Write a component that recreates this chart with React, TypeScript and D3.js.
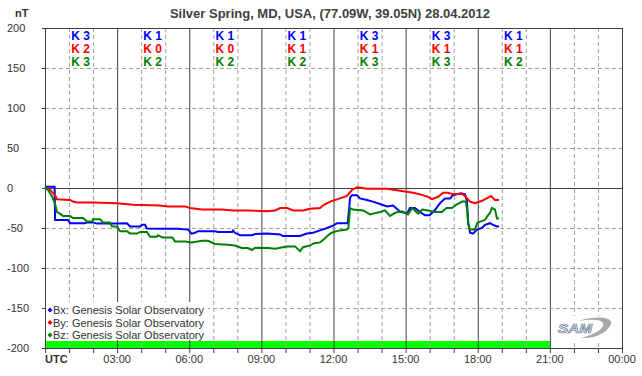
import React from "react";
import * as d3 from "d3";

const TITLE = "Silver Spring, MD, USA, (77.09W, 39.05N) 28.04.2012";
const yTicks = [200, 150, 100, 50, 0, -50, -100, -150, -200];
const xTickLabels = ["UTC", "03:00", "06:00", "09:00", "12:00", "15:00", "18:00", "21:00", "00:00"];
const kBx = ["K 3", "K 1", "K 1", "K 1", "K 3", "K 3", "K 1"];
const kBy = ["K 2", "K 0", "K 0", "K 1", "K 1", "K 1", "K 1"];
const kBz = ["K 3", "K 2", "K 2", "K 2", "K 3", "K 3", "K 2"];
const legendLabels = [
  "Bx: Genesis Solar Observatory",
  "By: Genesis Solar Observatory",
  "Bz: Genesis Solar Observatory",
];
const seriesColors = ["#0000ff", "#ff0000", "#008000"];
const dataCoverage = [0, 21];

const bxData: [number, number][] = [
  [0, 1.5], [0.4, 1.5], [0.42, -40], [0.96, -40], [1.04, -44], [1.66, -44], [1.75, -43], [2.0, -43],
  [2.16, -44.5], [3.0, -44.5], [3.41, -44], [3.54, -48], [3.95, -48], [4.03, -46], [4.16, -46],
  [4.24, -50.5], [4.78, -51], [5.5, -51], [5.95, -52], [6.1, -57], [6.24, -56], [6.36, -54],
  [7.07, -54], [7.2, -55], [7.78, -55], [7.82, -53], [7.9, -56], [8.11, -59], [8.61, -59],
  [8.74, -57.5], [9.23, -57], [9.78, -58], [9.9, -60], [10.6, -60], [10.9, -57], [11.15, -56],
  [11.44, -53], [11.73, -50], [11.98, -47], [12.15, -44], [12.56, -44], [12.6, -42], [12.69, -12],
  [12.77, -9], [12.98, -9], [13.1, -13], [13.39, -15], [13.64, -17], [14.02, -21], [14.23, -23],
  [14.48, -22], [14.77, -29.6], [15.06, -32], [15.18, -25], [15.39, -25], [15.6, -30], [15.8, -34],
  [16.0, -34], [16.22, -27.5], [16.43, -19], [16.64, -13], [16.85, -13], [16.97, -9], [17.3, -6.7],
  [17.47, -8], [17.55, -16], [17.6, -42], [17.68, -56], [17.8, -57], [17.97, -52], [18.18, -50],
  [18.3, -46], [18.51, -44], [18.64, -46], [18.8, -48], [18.89, -48],
];

const byData: [number, number][] = [
  [0, 1], [0.2, -2], [0.42, -9], [0.5, -14], [1.04, -15], [1.16, -17], [1.33, -18], [2.0, -18],
  [3.0, -19], [3.66, -21], [4.78, -22], [5.12, -23], [5.82, -23], [6.03, -25], [6.53, -27],
  [7.36, -27], [7.82, -28], [8.44, -28], [9.23, -29], [9.57, -28], [9.78, -25], [10.07, -25],
  [10.32, -28], [10.73, -28], [11.02, -26], [11.44, -25], [11.6, -21], [11.86, -17], [12.27, -13],
  [12.56, -10], [12.77, -2.5], [12.98, 1], [13.4, -1], [14.23, -1], [14.77, -3.5], [15.31, -6],
  [15.6, -8], [15.93, -11], [16.1, -14], [16.35, -11], [16.56, -6], [16.76, -6], [16.93, -7.5],
  [17.35, -7.5], [17.47, -10], [17.68, -17], [17.89, -19], [18.18, -16], [18.43, -12], [18.55, -10],
  [18.72, -15], [18.89, -15],
];

const bzData: [number, number][] = [
  [0, 1], [0.125, -2.5], [0.3, -11], [0.42, -20], [0.5, -30], [0.62, -32], [0.75, -35], [1.04, -35],
  [1.16, -37.5], [1.58, -37.5], [1.75, -42], [1.96, -42], [2.0, -39], [2.29, -39], [2.41, -43],
  [2.7, -43], [2.79, -48], [3.0, -48], [3.12, -54], [3.41, -54], [3.54, -57], [3.83, -57],
  [3.95, -55], [4.24, -55], [4.37, -61], [4.66, -61], [4.7, -59], [4.9, -62], [5.3, -62],
  [5.41, -67], [5.82, -67], [6.1, -68], [6.53, -66], [6.78, -66], [7.07, -70], [7.6, -71],
  [7.9, -72], [8.19, -75], [8.44, -75], [8.61, -77.5], [8.74, -74.6], [9.3, -75], [9.57, -76],
  [9.9, -74], [10.07, -73], [10.4, -73], [10.61, -79], [10.73, -74], [11.0, -72], [11.2, -69],
  [11.44, -68], [11.6, -64], [11.86, -57], [12.0, -55], [12.27, -53], [12.56, -52], [12.62, -50],
  [12.69, -25], [12.81, -27], [13.23, -28], [13.52, -33], [13.64, -32], [13.94, -30], [14.14, -28],
  [14.35, -35], [14.56, -31], [14.85, -29], [15.1, -33], [15.27, -25], [15.52, -32], [15.7, -27],
  [15.93, -28], [16.22, -30], [16.51, -30], [16.7, -25], [16.93, -25], [17.1, -21], [17.35, -17],
  [17.5, -17], [17.55, -25], [17.6, -45], [17.68, -52], [17.89, -52], [17.97, -44], [18.1, -42],
  [18.3, -40], [18.43, -34], [18.51, -31], [18.59, -25], [18.72, -27], [18.8, -38], [18.89, -38],
];

const W = 642;
const H = 376;
const L = 45, R = 622, T = 28, B = 348;
const FONT = "'Liberation Sans', Arial, sans-serif";

export default function App() {
  const x = d3.scaleLinear().domain([0, 24]).range([L, R]);
  const y = d3.scaleLinear().domain([-200, 200]).range([B, T]);
  const line = d3
    .line<[number, number]>()
    .x((d) => x(d[0]))
    .y((d) => y(d[1]));
  const hours = d3.range(0, 25);
  const series = [bxData, byData, bzData];
  const kRows = [kBx, kBy, kBz];

  return (
    <svg
      width={W}
      height={H}
      style={{ position: "absolute", left: 0, top: 0, background: "#fff" }}
      fontFamily={FONT}
    >
      <rect x={0} y={0} width={W} height={H} fill="#fff" />
      <rect
        x={x(dataCoverage[0])}
        y={B - 7}
        width={x(dataCoverage[1]) - x(dataCoverage[0])}
        height={7}
        fill="#00ff00"
      />
      {hours.slice(1, 24).map((h) =>
        h % 3 === 0 ? (
          <line key={"v" + h} x1={x(h) + 0.5} x2={x(h) + 0.5} y1={T} y2={B} stroke="#404040" strokeWidth={1} />
        ) : (
          <line key={"v" + h} x1={x(h) + 0.5} x2={x(h) + 0.5} y1={T} y2={B} stroke="#a0a0a0" strokeWidth={1} strokeDasharray="4,3" />
        )
      )}
      {yTicks.slice(1, -1).map((v) =>
        v === 0 ? (
          <line key={"h" + v} x1={L} x2={R} y1={y(v) + 0.5} y2={y(v) + 0.5} stroke="#404040" strokeWidth={1} />
        ) : (
          <line key={"h" + v} x1={L} x2={R} y1={y(v) + 0.5} y2={y(v) + 0.5} stroke="#a0a0a0" strokeWidth={1} strokeDasharray="4,3" />
        )
      )}
      <rect x={L + 0.5} y={T + 0.5} width={R - L} height={B - T} fill="none" stroke="#404040" strokeWidth={1} />
      {yTicks.map((v) => (
        <line key={"yt" + v} x1={L - 3} x2={L} y1={y(v) + 0.5} y2={y(v) + 0.5} stroke="#404040" />
      ))}
      {hours.map((h) => (
        <line key={"xt" + h} x1={x(h) + 0.5} x2={x(h) + 0.5} y1={B} y2={B + 5} stroke="#404040" />
      ))}
      {yTicks.map((v) => (
        <text key={"yl" + v} x={7} y={y(v) + 4} fontSize={11} fill="#333">
          {v}
        </text>
      ))}
      <text x={15} y={17} fontSize={11} fontWeight="bold" fill="#333">
        nT
      </text>
      {xTickLabels.map((t, i) =>
        i === 0 ? (
          <text key={"xl" + i} x={L} y={363} fontSize={11} fontWeight="bold" fill="#333">
            {t}
          </text>
        ) : (
          <text key={"xl" + i} x={x(i * 3)} y={363} fontSize={11} fill="#333" textAnchor="middle">
            {t}
          </text>
        )
      )}
      <text x={330} y={18} fontSize={13} fontWeight="bold" fill="#404040" textAnchor="middle">
        {TITLE}
      </text>
      {kRows.map((row, r) =>
        row.map((k, i) => (
          <text
            key={"k" + r + "-" + i}
            x={x(i * 3 + 1.5) - 0.5}
            y={40 + r * 13}
            fontSize={12}
            fontWeight="bold"
            fill={seriesColors[r]}
            textAnchor="middle"
          >
            {k}
          </text>
        ))
      )}
      {series.map((s, i) => (
        <path key={"s" + i} d={line(s) || ""} fill="none" stroke={seriesColors[i]} strokeWidth={2} strokeLinejoin="miter" />
      ))}
      <rect x={L + 1} y={302} width={162} height={38} fill="#fff" />
      {legendLabels.map((t, i) => (
        <g key={"lg" + i}>
          <path
            d={`M${50 - 2.5},${310 + i * 12.5} L${50},${307.5 + i * 12.5} L${52.5},${310 + i * 12.5} L${50},${312.5 + i * 12.5} Z`}
            fill={seriesColors[i]}
          />
          <text x={53} y={314 + i * 12.5} fontSize={11} fill="#333">
            {t}
          </text>
        </g>
      ))}
      <g>
        <rect x={556} y={316} width={58} height={24} fill="#fff" />
        <path
          d="M578,321 C596,315 614,317 611,324 C608,332 596,339 581,338 C596,334 605,328 603,323 C601,319 591,319 578,321 Z"
          fill="#a8a8a8"
        />
        <text
          x={558}
          y={333}
          fontSize={12}
          fontWeight="bold"
          fontStyle="italic"
          fill="#dfe6e0"
          stroke="#6a7898"
          strokeWidth={0.6}
          textLength={34}
          lengthAdjust="spacingAndGlyphs"
        >
          SAM
        </text>
      </g>
    </svg>
  );
}
